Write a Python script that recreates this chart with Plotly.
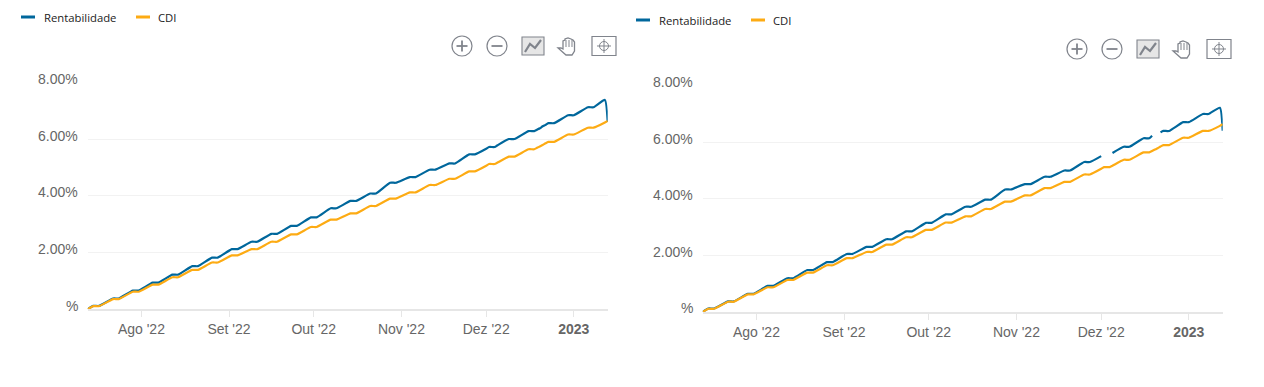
import plotly.graph_objects as go

W, H = 1264, 387

dates = ["2022-07-13","2022-07-15","2022-07-17","2022-07-22","2022-07-24","2022-07-29","2022-07-31",
"2022-08-05","2022-08-07","2022-08-12","2022-08-14","2022-08-19","2022-08-21","2022-08-26","2022-08-28",
"2022-09-02","2022-09-04","2022-09-09","2022-09-11","2022-09-16","2022-09-18","2022-09-23","2022-09-25",
"2022-09-30","2022-10-02","2022-10-07","2022-10-09","2022-10-14","2022-10-16","2022-10-21","2022-10-23",
"2022-10-28","2022-10-30","2022-11-04","2022-11-06","2022-11-11","2022-11-13","2022-11-18","2022-11-20",
"2022-11-25","2022-11-27","2022-12-01","2022-12-02","2022-12-04","2022-12-05","2022-12-09","2022-12-11",
"2022-12-16","2022-12-18","2022-12-19","2022-12-20","2022-12-21","2022-12-22","2022-12-23","2022-12-25",
"2022-12-30","2023-01-01","2023-01-06","2023-01-08","2023-01-12","2023-01-13"]

cdi = [0,0.11,0.11,0.36,0.36,0.62,0.62,0.87,0.87,1.13,1.13,1.39,1.39,1.65,1.65,
1.90,1.90,2.12,2.12,2.38,2.38,2.64,2.64,2.90,2.90,3.16,3.16,3.38,3.38,3.64,3.64,
3.90,3.90,4.12,4.12,4.38,4.38,4.60,4.60,4.86,4.86,5.06,5.12,5.12,5.17,5.38,5.38,
5.64,5.64,5.69,5.74,5.79,5.85,5.90,5.90,6.16,6.16,6.40,6.40,6.58,6.64]

rent_left = [0,0.12,0.12,0.38,0.38,0.66,0.66,0.94,0.94,1.22,1.22,1.52,1.52,1.82,1.82,
2.12,2.12,2.38,2.38,2.66,2.66,2.94,2.94,3.24,3.24,3.56,3.56,3.82,3.82,4.08,4.08,
4.46,4.46,4.66,4.66,4.92,4.92,5.14,5.14,5.46,5.46,5.66,5.72,5.72,5.78,6.00,6.00,
6.28,6.28,6.33,6.38,6.45,6.50,6.56,6.56,6.84,6.84,7.12,7.12,7.38,6.60]

rent_right = [0,0.12,0.12,0.37,0.37,0.64,0.64,0.92,0.92,1.19,1.19,1.48,1.48,1.76,1.76,
2.05,2.05,2.30,2.30,2.57,2.57,2.85,2.85,3.15,3.15,3.45,3.45,3.72,3.72,3.97,3.97,
4.33,4.33,4.52,4.52,4.78,4.78,5.00,5.00,5.30,5.30,5.51,None,None,5.62,5.84,5.84,
6.14,6.14,6.23,None,None,6.35,6.40,6.40,6.71,6.71,7.00,7.00,7.22,6.41]

x_ticks = ["2022-08-01","2022-09-01","2022-10-01","2022-11-01","2022-12-01","2023-01-01"]
x_labels = ["Ago '22","Set '22","Out '22","Nov '22","Dez '22","<b>2023</b>"]
y_ticks = [0,2,4,6,8]
y_labels = ["%","2.00%","4.00%","6.00%","8.00%"]
series_names = ["Rentabilidade","CDI"]

BLUE, ORANGE = "#00679c", "#fdab13"
ICON = "#80848c"


def fx(x):
    return x / W


def fy(y):
    return 1 - y / H


fig = go.Figure()
panels = [("x", "y", rent_left, 87.7, 607.7, 309.3, 82.3, 0, 0),
          ("x2", "y2", rent_right, 702.7, 1222.7, 311.9, 85.7, 615, 3)]
shapes, annotations = [], []


def pth(pts, close=False):
    s = "M" + " L".join(f"{fx(a):.5f},{fy(b):.5f}" for a, b in pts)
    return s + (" Z" if close else "")


def line(pts, color=ICON, width=1.4, fill=None, close=False):
    d = dict(type="path", xref="paper", yref="paper", path=pth(pts, close),
             line=dict(color=color, width=width))
    if fill:
        d["fillcolor"] = fill
    shapes.append(d)


def circle(cx, cy, r, color=ICON, width=1.2):
    shapes.append(dict(type="circle", xref="paper", yref="paper", x0=fx(cx - r), x1=fx(cx + r),
                       y0=fy(cy + r), y1=fy(cy - r), line=dict(color=color, width=width)))


def leg_text(x, y, t):
    annotations.append(dict(xref="paper", yref="paper", x=fx(x), y=fy(y), text=t, showarrow=False,
                            xanchor="left", yanchor="middle",
                            font=dict(family="Open Sans", size=11.3, color="#222222")))


for i, (xa, ya, rent, x0, x1, y0, y1, dx, dy) in enumerate(panels):
    fig.add_trace(go.Scatter(x=dates, y=rent, name=series_names[0], xaxis=xa, yaxis=ya, mode="lines",
                             line=dict(color=BLUE, width=2.2, shape="spline", smoothing=0.5),
                             connectgaps=False, cliponaxis=False, showlegend=False))
    fig.add_trace(go.Scatter(x=dates, y=cdi, name=series_names[1], xaxis=xa, yaxis=ya, mode="lines",
                             line=dict(color=ORANGE, width=2.2, shape="spline", smoothing=0.5),
                             cliponaxis=False, showlegend=False))
    xname = "xaxis" if i == 0 else "xaxis2"
    yname = "yaxis" if i == 0 else "yaxis2"
    fig.update_layout({
        xname: dict(domain=[fx(x0), fx(x1)], range=["2022-07-13", "2023-01-13"], anchor=ya,
                    tickmode="array", tickvals=x_ticks, ticktext=x_labels, ticks="outside", ticklen=6,
                    tickcolor="#e6e6e6", tickwidth=1, showgrid=False, showline=True, linecolor="#e6e6e6",
                    linewidth=2, zeroline=False, ticklabelstandoff=0,
                    tickfont=dict(family="Liberation Sans", size=14, color="#666666")),
        yname: dict(domain=[fy(y0), fy(y1)], range=[0, 8], anchor=xa, tickmode="array", tickvals=y_ticks,
                    showticklabels=False, ticks="", showgrid=True, gridcolor="#f2f2f2", gridwidth=1,
                    zeroline=False, showline=False),
    })
    for v, t in zip(y_ticks, y_labels):
        annotations.append(dict(xref="paper", yref=ya, x=fx(x0 - 8), y=v, text=t, showarrow=False,
                                xanchor="right", yanchor="middle", yshift=3.5,
                                font=dict(family="Liberation Sans", size=14, color="#666666")))
    # legend
    ly = 17 + dy
    line([(21 + dx, ly), (35 + dx, ly)], BLUE, 3)
    leg_text(41.5 + dx, ly, series_names[0])
    line([(136 + dx, ly), (150 + dx, ly)], ORANGE, 3)
    leg_text(156 + dx, ly, series_names[1])
    # toolbar
    cy = 46 + dy
    circle(462 + dx, cy, 10)
    line([(456.5 + dx, cy), (467.5 + dx, cy)], width=1.8)
    line([(462 + dx, cy - 5.5), (462 + dx, cy + 5.5)], width=1.8)
    circle(497 + dx, cy, 10)
    line([(491.5 + dx, cy), (502.5 + dx, cy)], width=1.8)
    bx0, bx1 = 522 + dx, 544 + dx
    line([(bx0, cy - 9), (bx1, cy - 9), (bx1, cy + 9), (bx0, cy + 9)], width=1.1, fill="#e6e6e6", close=True)
    line([(bx0 + 3, cy + 6), (bx0 + 8, cy - 2), (bx0 + 13, cy + 2), (bx1 - 3, cy - 6)], width=2.2)
    hx, hy = 558 + dx, cy - 8
    line([(hx, hy + 10), (hx + 3, hy + 10), (hx + 5, hy + 11), (hx + 5, hy + 3), (hx + 7, hy + 2), (hx + 7, hy + 1),
          (hx + 10, hy), (hx + 13, hy + 1), (hx + 15, hy + 2), (hx + 16.5, hy + 4), (hx + 16.5, hy + 13),
          (hx + 14, hy + 17), (hx + 8, hy + 17)], width=1.3, fill="#ffffff", close=True)
    for off in (8, 11, 14):
        line([(hx + off, hy + 2), (hx + off, hy + 9)], width=1)
    tx0, tx1 = 592 + dx, 616 + dx
    line([(tx0, cy - 9.5), (tx1, cy - 9.5), (tx1, cy + 9.5), (tx0, cy + 9.5)], width=1.2, close=True)
    tcx = 604 + dx
    circle(tcx, cy, 4.5, width=1)
    line([(tcx - 7, cy), (tcx + 7, cy)], width=1)
    line([(tcx, cy - 7), (tcx, cy + 7)], width=1)

fig.update_layout(width=W, height=H, margin=dict(l=0, r=0, t=0, b=0), paper_bgcolor="#ffffff",
                  plot_bgcolor="#ffffff", showlegend=False, shapes=shapes, annotations=annotations)
fig.write_html("out.html", config=dict(displayModeBar=False),
               post_script="document.body.style.margin='0';")
